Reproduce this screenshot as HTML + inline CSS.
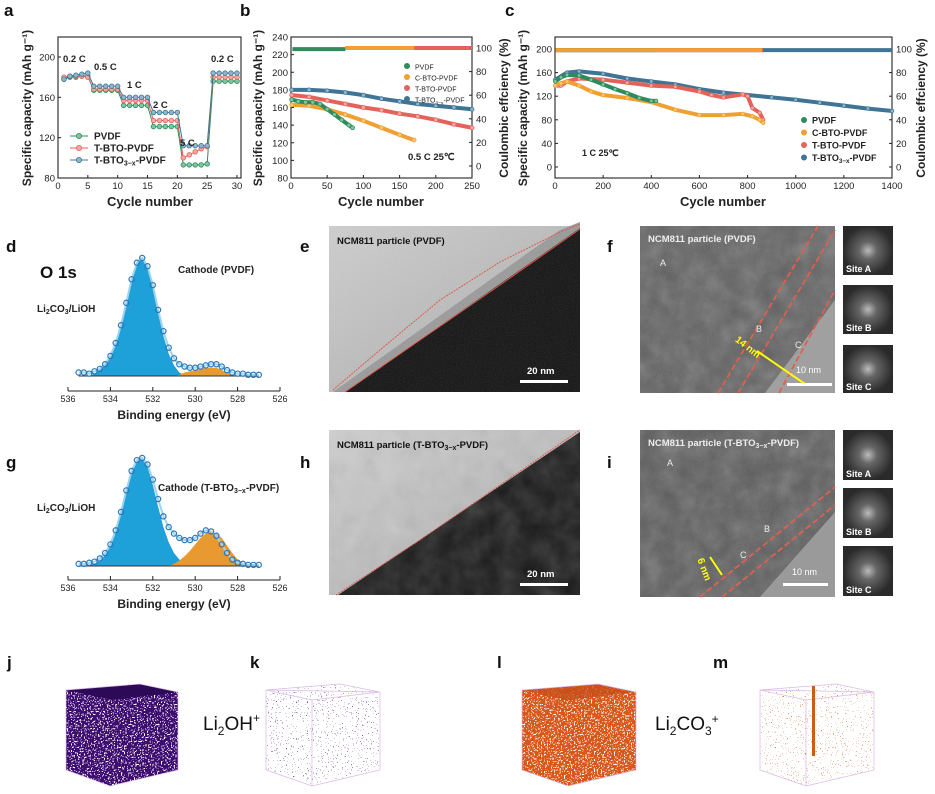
<!DOCTYPE html>
<html><head><meta charset="utf-8"><style>
html,body{margin:0;padding:0;background:#fff}
svg{display:block;font-family:"Liberation Sans",Arial,sans-serif}
</style></head><body>
<svg id="fig" width="935" height="794" viewBox="0 0 935 794" xmlns="http://www.w3.org/2000/svg">
<defs>
<filter id="grain" x="0" y="0" width="100%" height="100%"><feTurbulence type="fractalNoise" baseFrequency="0.9" numOctaves="2" seed="3"/><feColorMatrix type="saturate" values="0"/><feComponentTransfer><feFuncA type="linear" slope="0.35"/></feComponentTransfer></filter>
<filter id="blotch" x="0" y="0" width="100%" height="100%"><feTurbulence type="fractalNoise" baseFrequency="0.05" numOctaves="3" seed="7"/><feColorMatrix type="saturate" values="0"/><feComponentTransfer><feFuncA type="linear" slope="0.5"/></feComponentTransfer></filter>
<filter id="dotsDense" x="0" y="0" width="100%" height="100%"><feTurbulence type="fractalNoise" baseFrequency="0.7" numOctaves="1" seed="4"/><feColorMatrix type="matrix" values="0 0 0 0 0 0 0 0 0 0 0 0 0 0 0 1 0 0 0 0"/><feComponentTransfer><feFuncA type="discrete" tableValues="0 0 0 0 1 1 1 1 1 1"/></feComponentTransfer><feComposite in="SourceGraphic" operator="in"/></filter>
<filter id="dotsSparse" x="0" y="0" width="100%" height="100%"><feTurbulence type="fractalNoise" baseFrequency="0.8" numOctaves="1" seed="9"/><feColorMatrix type="matrix" values="0 0 0 0 0 0 0 0 0 0 0 0 0 0 0 1 0 0 0 0"/><feComponentTransfer><feFuncA type="discrete" tableValues="0 0 0 0 0 0 0 1 1 1"/></feComponentTransfer><feComposite in="SourceGraphic" operator="in"/></filter>
<radialGradient id="fft"><stop offset="0" stop-color="#bbb"/><stop offset="0.35" stop-color="#666"/><stop offset="1" stop-color="#2a2a2a"/></radialGradient>
<linearGradient id="eBg" x1="0" y1="0" x2="1" y2="1"><stop offset="0" stop-color="#cfcfcf"/><stop offset="1" stop-color="#a9a9a9"/></linearGradient>
</defs>

<g font-weight="bold" font-size="17" fill="#111">
<text x="4" y="16">a</text><text x="240" y="16">b</text><text x="505" y="16">c</text>
<text x="6" y="252">d</text><text x="300" y="252">e</text><text x="607" y="252">f</text>
<text x="6" y="468">g</text><text x="300" y="468">h</text><text x="607" y="468">i</text>
<text x="7" y="668">j</text><text x="250" y="668">k</text><text x="497" y="668">l</text><text x="713" y="668">m</text>
</g>

<g>
<rect x="329" y="226" width="251" height="166" fill="url(#eBg)"/>
<polygon points="345,392 580,228 580,392" fill="#111"/>
<polygon points="333,392 345,392 580,228 580,222 560,230" fill="#9a9a9a"/>
<rect x="329" y="226" width="251" height="166" filter="url(#grain)" opacity="0.5"/>
<polyline points="333,390 380,350 440,300 500,262 560,232 580,224" fill="none" stroke="#e05a4a" stroke-width="1" stroke-dasharray="2,1"/>
<polyline points="345,392 420,340 500,285 580,229" fill="none" stroke="#e05a4a" stroke-width="1"/>
<text x="337" y="244" font-size="9.5" font-weight="bold" fill="#111">NCM811 particle (PVDF)</text>
<rect x="520" y="380" width="48" height="3" fill="#fff"/><text x="527" y="374" font-size="9.5" font-weight="bold" fill="#fff">20 nm</text>
</g>
<g>
<rect x="329" y="430" width="251" height="165" fill="url(#eBg)"/>
<polygon points="338,595 580,432 580,595" fill="#1a1a1a"/>
<rect x="329" y="430" width="251" height="165" filter="url(#blotch)" opacity="0.5"/>
<polyline points="336,595 420,540 500,485 580,430" fill="none" stroke="#e05a4a" stroke-width="1" stroke-dasharray="2,1"/>
<text x="337" y="448" font-size="9.5" font-weight="bold" fill="#111">NCM811 particle (T-BTO<tspan font-size="7" dy="2">3−x</tspan><tspan dy="-2">-PVDF)</tspan></text>
<rect x="520" y="583" width="48" height="3" fill="#fff"/><text x="527" y="577" font-size="9.5" font-weight="bold" fill="#fff">20 nm</text>
</g>
<g>
<rect x="640" y="226" width="195" height="167" fill="#5a5a5a"/>
<rect x="640" y="226" width="195" height="167" filter="url(#blotch)" opacity="0.7"/>
<rect x="640" y="226" width="195" height="167" filter="url(#grain)" opacity="0.5"/>
<polygon points="765,393 835,300 835,393" fill="#a0a0a0"/>
<line x1="718" y1="393" x2="818" y2="226" stroke="#e06050" stroke-width="1.8" stroke-dasharray="6,3"/>
<line x1="738" y1="393" x2="835" y2="230" stroke="#e06050" stroke-width="1.8" stroke-dasharray="6,3"/>
<line x1="779" y1="393" x2="835" y2="290" stroke="#e06050" stroke-width="1.8" stroke-dasharray="6,3"/>
<line x1="757" y1="351" x2="805" y2="384" stroke="#ff0" stroke-width="2"/>
<text x="733" y="345" font-size="10" font-weight="bold" fill="#ff0" transform="rotate(38 740 345)">14 nm</text>
<text x="648" y="242" font-size="9.5" font-weight="bold" fill="#eee">NCM811 particle (PVDF)</text>
<text x="660" y="266" font-size="9" fill="#eee">A</text><text x="756" y="332" font-size="9" fill="#eee">B</text><text x="795" y="348" font-size="9" fill="#eee">C</text>
<rect x="787" y="383" width="45" height="3" fill="#fff"/><text x="796" y="373" font-size="9" fill="#fff">10 nm</text>
</g>
<g font-size="9" font-weight="bold" fill="#fff">
<rect x="843" y="226" width="50" height="49" fill="url(#fft)"/><text x="846" y="272">Site A</text>
<rect x="843" y="285" width="50" height="49" fill="url(#fft)"/><text x="846" y="331">Site B</text>
<rect x="843" y="345" width="50" height="48" fill="url(#fft)"/><text x="846" y="390">Site C</text>
</g>
<g>
<rect x="640" y="430" width="195" height="167" fill="#555"/>
<rect x="640" y="430" width="195" height="167" filter="url(#blotch)" opacity="0.7"/>
<rect x="640" y="430" width="195" height="167" filter="url(#grain)" opacity="0.5"/>
<polygon points="760,597 835,512 835,597" fill="#9a9a9a"/>
<line x1="700" y1="597" x2="835" y2="487" stroke="#e06050" stroke-width="1.8" stroke-dasharray="6,3"/>
<line x1="722" y1="597" x2="835" y2="505" stroke="#e06050" stroke-width="1.8" stroke-dasharray="6,3"/>
<line x1="710" y1="557" x2="722" y2="575" stroke="#ff0" stroke-width="2"/>
<text x="692" y="567" font-size="10" font-weight="bold" fill="#ff0" transform="rotate(70 700 567)">6 nm</text>
<text x="648" y="446" font-size="9.5" font-weight="bold" fill="#eee">NCM811 particle (T-BTO<tspan font-size="7" dy="2">3−x</tspan><tspan dy="-2">-PVDF)</tspan></text>
<text x="667" y="466" font-size="9" fill="#eee">A</text><text x="764" y="532" font-size="9" fill="#eee">B</text><text x="740" y="558" font-size="9" fill="#eee">C</text>
<rect x="783" y="583" width="45" height="3" fill="#fff"/><text x="792" y="575" font-size="9" fill="#fff">10 nm</text>
</g>
<g font-size="9" font-weight="bold" fill="#fff">
<rect x="843" y="430" width="50" height="50" fill="url(#fft)"/><text x="846" y="477">Site A</text>
<rect x="843" y="488" width="50" height="50" fill="url(#fft)"/><text x="846" y="535">Site B</text>
<rect x="843" y="546" width="50" height="50" fill="url(#fft)"/><text x="846" y="593">Site C</text>
</g>

<g>
<polygon points="66,690 140,684 178,692 178,770 110,786 66,770" fill="#3c1070" filter="url(#dotsDense)"/>
<polygon points="66,690 140,684 178,692 112,700" fill="#2c0a58"/>
<polygon points="66,690 140,684 178,692 178,770 110,786 66,770" fill="none" stroke="#d9b8e6" stroke-width="0.7"/>
</g>
<g>
<polygon points="266,690 340,684 380,692 380,770 312,786 266,770" fill="#4a1a80" filter="url(#dotsSparse)"/>
<polygon points="266,690 340,684 380,692 380,770 312,786 266,770 266,690 312,700 380,692" fill="none" stroke="#d9b8e6" stroke-width="0.7"/>
<line x1="312" y1="700" x2="312" y2="786" stroke="#d9b8e6" stroke-width="0.7"/>
</g>
<g>
<polygon points="522,690 598,684 636,692 636,770 568,786 522,770" fill="#d8581e" filter="url(#dotsDense)"/>
<polygon points="522,690 598,684 636,692 568,700" fill="#c84d18" opacity="0.8"/>
<polygon points="522,690 598,684 636,692 636,770 568,786 522,770" fill="none" stroke="#d9b8e6" stroke-width="0.7"/>
</g>
<g>
<polygon points="760,690 836,684 874,692 874,770 806,786 760,770" fill="#d8601e" filter="url(#dotsSparse)"/>
<polygon points="760,690 836,684 874,692 874,770 806,786 760,770 760,690 806,700 874,692" fill="none" stroke="#d9b8e6" stroke-width="0.7"/>
<line x1="806" y1="700" x2="806" y2="786" stroke="#d9b8e6" stroke-width="0.7"/>
<rect x="812" y="686" width="3" height="70" fill="#d05a18"/>
</g>
<g font-size="19" fill="#111">
<text x="203" y="730">Li<tspan font-size="12" dy="5">2</tspan><tspan dy="-5">OH</tspan><tspan font-size="12" dy="-8">+</tspan></text>
<text x="655" y="730">Li<tspan font-size="12" dy="5">2</tspan><tspan dy="-5">CO</tspan><tspan font-size="12" dy="5">3</tspan><tspan font-size="12" dy="-12">+</tspan></text>
</g>
<g id="charts"></g>
</svg>
<script>
var aCycles = [1,2,3,4,5,6,7,8,9,10,11,12,13,14,15,16,17,18,19,20,21,22,23,24,25,26,27,28,29,30];
var aPVDF = [178,180,180,181,181,167,167,167,167,167,152,152,152,152,152,131,131,131,131,131,93,93,93,93,94,176,176,176,176,176];
var aTBTO = [180,181,181,181,180,168,168,168,168,168,157,157,157,157,157,137,137,137,137,137,100,103,106,109,111,180,180,180,180,180];
var aTBTOx = [178,181,182,183,184,171,171,171,171,171,160,160,160,160,160,145,145,145,145,145,112,112,112,112,112,184,184,184,184,184];
var aYTicks = [80,120,160,200];
var aXTicks = [0,5,10,15,20,25,30];
var bPVDFx = [1,10,20,30,40,50,60,70,80,85];
var bPVDFy = [169,167,166,166,164,158,152,146,140,137];
var bCBTOx = [1,25,50,75,100,125,150,170];
var bCBTOy = [163,162,158,152,145,137,129,123];
var bTBTOx = [1,25,50,75,100,125,150,175,200,225,250];
var bTBTOy = [174,172,168,164,160,157,153,150,146,141,137];
var bTBTOxx = [1,25,50,75,100,125,150,175,200,225,250];
var bTBTOxy = [180,180,179,177,174,170,167,164,162,160,158];
var bCEx = [[2,75],[75,170],[75,250],[2,250]];
var bCEy = [99,100,100,100];
var bYTicks = [80,100,120,140,160,180,200,220,240];
var bRTicks = [0,20,40,60,80,100];
var bXTicks = [0,50,100,150,200,250];
var cPVDFx = [1,25,50,100,150,200,250,300,350,400,420];
var cPVDFy = [145,152,156,155,148,140,132,125,117,112,112];
var cCBTOx = [1,25,50,100,150,200,300,400,500,600,700,780,820,850,865];
var cCBTOy = [138,142,145,138,128,122,117,110,97,88,88,90,86,80,75];
var cTBTOx = [1,25,50,100,200,300,400,500,600,650,700,780,800,820,850,865];
var cTBTOy = [138,138,145,150,148,143,138,136,128,122,118,123,120,100,92,80];
var cTBTOxx = [1,50,100,200,300,400,500,600,700,800,900,1000,1100,1200,1300,1400];
var cTBTOxy = [148,160,162,158,150,145,140,132,126,122,118,114,109,104,99,95];
var cCEx = [[2,420],[2,860],[2,865],[2,1400]];
var cCEy = [99,99,99,99];
var cYTicks = [0,40,80,120,160,200];
var cRTicks = [0,20,40,60,80,100];
var cXTicks = [0,200,400,600,800,1000,1200,1400];
var xpsE = [535.5,535.25,535,534.75,534.5,534.25,534,533.75,533.5,533.25,533,532.75,532.5,532.25,532,531.75,531.5,531.25,531,530.75,530.5,530.25,530,529.75,529.5,529.25,529,528.75,528.5,528.25,528,527.75,527.5,527.25,527];
var dData = [0.03,0.03,0.02,0.04,0.06,0.1,0.17,0.28,0.43,0.62,0.82,0.96,1.0,0.93,0.77,0.56,0.38,0.24,0.15,0.1,0.08,0.07,0.07,0.08,0.09,0.1,0.1,0.08,0.05,0.03,0.02,0.02,0.01,0.01,0.01];
var dComp1 = [0,0,0,0.02,0.05,0.09,0.16,0.27,0.42,0.61,0.81,0.95,0.99,0.92,0.75,0.53,0.34,0.19,0.09,0.03,0.01,0,0,0,0,0,0,0,0,0,0,0,0,0,0];
var dComp2 = [0,0,0,0,0,0,0,0,0,0,0,0,0,0,0,0,0,0,0,0.01,0.03,0.04,0.05,0.06,0.07,0.07,0.07,0.05,0.03,0.01,0,0,0,0,0];
var gData = [0.02,0.02,0.03,0.04,0.07,0.12,0.2,0.33,0.5,0.7,0.88,0.98,1.0,0.94,0.8,0.62,0.46,0.36,0.3,0.26,0.24,0.24,0.26,0.3,0.33,0.32,0.28,0.2,0.12,0.06,0.03,0.02,0.01,0.01,0.01];
var gComp1 = [0,0,0.01,0.02,0.05,0.1,0.18,0.31,0.48,0.68,0.86,0.97,0.99,0.92,0.75,0.55,0.36,0.22,0.12,0.06,0.03,0.01,0,0,0,0,0,0,0,0,0,0,0,0,0];
var gComp2 = [0,0,0,0,0,0,0,0,0,0,0,0,0,0,0,0,0,0,0.02,0.05,0.09,0.14,0.2,0.26,0.3,0.32,0.3,0.26,0.19,0.12,0.06,0.03,0.01,0,0];
var xpsXTicks = [536,534,532,530,528,526];

var NS = 'http://www.w3.org/2000/svg';
var root = document.getElementById('charts');
function mk(tag, attrs, parent) {
  var el = document.createElementNS(NS, tag);
  for (var k in attrs) el.setAttribute(k, attrs[k]);
  (parent || root).appendChild(el);
  return el;
}
function txt(s, attrs, parent) { var t = mk('text', attrs, parent); t.textContent = s; return t; }

var COL = {pvdf:'#2f8a5c', cbto:'#f0a032', tbto:'#e5625a', tbtox:'#3f7494'};
var FILL = {pvdf:'#7fc6a0', cbto:'#f7c777', tbto:'#f2a9a2', tbtox:'#8fb6cc'};

function axesBox(x0,y0,x1,y1,name){
  var r = mk('rect',{x:x0,y:y0,width:x1-x0,height:y1-y0,fill:'none',stroke:'#222','stroke-width':1.1});
  
  
}
function xTicks(ticks, sx, y, g){
  ticks.forEach(function(t){
    mk('line',{x1:sx(t),x2:sx(t),y1:y,y2:y-3,stroke:'#222'},g);
    var tl = txt(String(t),{x:sx(t),y:y+11,'font-size':9.5,'text-anchor':'middle',fill:'#222'},g);
    
    
  });
}
function yTicks(ticks, sy, x, side, g){
  ticks.forEach(function(t){
    var d = side==='left'?3:-3;
    mk('line',{x1:x,x2:x+d,y1:sy(t),y2:sy(t),stroke:'#222'},g);
    var tl = txt(String(t),{x:side==='left'?x-3:x+4,y:sy(t)+3.5,'font-size':9.5,'text-anchor':side==='left'?'end':'start',fill:'#222'},g);
    
    
  });
}
function rotTitle(s,x,y,name){
  var t = txt(s,{x:x,y:y,'font-size':12,'font-weight':'bold','text-anchor':'middle',fill:'#222',transform:'rotate(-90 '+x+' '+y+')'});
  
  
  return t;
}
function series(xs, ys, sx, sy, key, name, r, thick){
  var g = mk('g',{});
  
  
  var pts = xs.map(function(x,i){return sx(x)+','+sy(ys[i]);}).join(' ');
  mk('polyline',{points:pts,fill:'none',stroke:COL[key],'stroke-width':thick||1,'stroke-linejoin':'round'},g);
  xs.forEach(function(x,i){
    var c = mk('circle',{cx:sx(x),cy:sy(ys[i]),r:r,fill:FILL[key],stroke:COL[key],'stroke-width':0.8},g);
    
    
  });
}
function legend(items, x, y, dy, fs, bold, line){
  var g = mk('g',{});
  
  
  items.forEach(function(it,i){
    var yy = y + i*dy;
    if(line) mk('line',{x1:x,x2:x+18,y1:yy,y2:yy,stroke:COL[it[0]],'stroke-width':1},g);
    mk('circle',{cx:line?x+9:x+4,cy:yy,r:2.6,fill:line?FILL[it[0]]:COL[it[0]],stroke:COL[it[0]],'stroke-width':0.8},g);
    var t = txt('',{x:line?x+24:x+12,y:yy+3.5,'font-size':fs,'font-weight':bold?'bold':'normal',fill:'#222'},g);
    
    
    t.innerHTML = it[1];
  });
}
var SUB = 'T-BTO<tspan font-size="70%" dy="2">3−x</tspan><tspan dy="-2">-PVDF</tspan>';

(function(){
  var sx = function(v){return 58 + v*(237-58)/30;};
  var sy = function(v){return 178 - (v-80)*121/120;};
  axesBox(58,37,241,178,'panel-a-axes');
  var g = mk('g',{});
  xTicks(aXTicks, sx, 178, g); yTicks(aYTicks, sy, 58, 'left', g);
  series(aCycles,aPVDF,sx,sy,'pvdf','a-series-pvdf',2.3);
  series(aCycles,aTBTO,sx,sy,'tbto','a-series-tbto',2.3);
  series(aCycles,aTBTOx,sx,sy,'tbtox','a-series-tbtox',2.3);
  legend([['pvdf','PVDF'],['tbto','T-BTO-PVDF'],['tbtox',SUB]],70,136,12,10,true,true);
  var ann = [['0.2 C',63,62],['0.5 C',94,70],['1 C',127,88],['2 C',153,108],['5 C',180,146],['0.2 C',211,62]];
  ann.forEach(function(a){var t=txt(a[0],{x:a[1],y:a[2],'font-size':9.5,'font-weight':'bold',fill:'#222'});
    
    });
  rotTitle('Specific capacity (mAh g⁻¹)',31,108,'a-y-axis-title');
  var t = txt('Cycle number',{x:150,y:206,'font-size':13,'font-weight':'bold','text-anchor':'middle',fill:'#222'});
  
  
})();

(function(){
  var sx = function(v){return 291 + v*(472-291)/250;};
  var sy = function(v){return 37 + (240-v)*141/160;};
  var sr = function(v){return 166 - v*1.18;};
  axesBox(291,37,472,178,'panel-b-axes');
  var g = mk('g',{});
  xTicks(bXTicks, sx, 178, g); yTicks(bYTicks, sy, 291, 'left', g); yTicks(bRTicks, sr, 472, 'right', g);
  var keys = ['pvdf','cbto','tbto','tbtox'];
  [2,1,0].forEach(function(i){
    var r = bCEx[i];
    var l = mk('line',{x1:sx(r[0]),x2:sx(r[1]),y1:sr(bCEy[i]),y2:sr(bCEy[i]),stroke:COL[keys[i]],'stroke-width':4});
    
    
  });
  series(bTBTOxx,bTBTOxy,sx,sy,'tbtox','b-series-tbtox',2,4);
  series(bTBTOx,bTBTOy,sx,sy,'tbto','b-series-tbto',2,4);
  series(bCBTOx,bCBTOy,sx,sy,'cbto','b-series-cbto',2,4);
  series(bPVDFx,bPVDFy,sx,sy,'pvdf','b-series-pvdf',2,4);
  legend([['pvdf','PVDF'],['cbto','C-BTO-PVDF'],['tbto','T-BTO-PVDF'],['tbtox',SUB]],403,66,11,7,false,false);
  var t=txt('0.5 C 25℃',{x:408,y:160,'font-size':9.5,'font-weight':'bold',fill:'#222'});
  
  
  rotTitle('Specific capacity (mAh g⁻¹)',262,108,'b-y-axis-title');
  rotTitle('Coulombic effciency (%)',508,108,'b-right-axis-title');
  t = txt('Cycle number',{x:381,y:206,'font-size':13,'font-weight':'bold','text-anchor':'middle',fill:'#222'});
  
  
})();

(function(){
  var sx = function(v){return 555 + v*(892-555)/1400;};
  var sy = function(v){return 167 - v*0.59;};
  var sr = function(v){return 167 - v*1.18;};
  axesBox(555,37,892,178,'panel-c-axes');
  var g = mk('g',{});
  xTicks(cXTicks, sx, 178, g); yTicks(cYTicks, sy, 555, 'left', g); yTicks(cRTicks, sr, 892, 'right', g);
  var keys = ['pvdf','cbto','tbto','tbtox'];
  [3,2,0,1].forEach(function(i){
    var r = cCEx[i];
    var l = mk('line',{x1:sx(r[0]),x2:sx(r[1]),y1:sr(cCEy[i]),y2:sr(cCEy[i]),stroke:COL[keys[i]],'stroke-width':4});
    
    
  });
  series(cTBTOxx,cTBTOxy,sx,sy,'tbtox','c-series-tbtox',1.8,4);
  series(cTBTOx,cTBTOy,sx,sy,'tbto','c-series-tbto',1.8,4);
  series(cCBTOx,cCBTOy,sx,sy,'cbto','c-series-cbto',1.8,4);
  series(cPVDFx,cPVDFy,sx,sy,'pvdf','c-series-pvdf',1.8,4);
  legend([['pvdf','PVDF'],['cbto','C-BTO-PVDF'],['tbto','T-BTO-PVDF'],['tbtox',SUB]],800,120,12.5,9,true,false);
  var t=txt('1 C 25℃',{x:582,y:156,'font-size':9,'font-weight':'bold',fill:'#222'});
  
  
  rotTitle('Specific capacity (mAh g⁻¹)',527,108,'c-y-axis-title');
  rotTitle('Coulombic effciency (%)',925,108,'c-right-axis-title');
  t = txt('Cycle number',{x:723,y:206,'font-size':13,'font-weight':'bold','text-anchor':'middle',fill:'#222'});
  
  
})();

function xps(axisY, baseY, h, data, c1, c2, pfx, label, labelX, labelY){
  var sx = function(v){return 68 + (536-v)*(280-68)/10;};
  var sy = function(v){return baseY - v*h;};
  var ax = mk('line',{x1:68,x2:280,y1:axisY,y2:axisY,stroke:'#222','stroke-width':1});
  
  
  var g = mk('g',{});
  xpsXTicks.forEach(function(t){
    mk('line',{x1:sx(t),x2:sx(t),y1:axisY,y2:axisY-4,stroke:'#222'},g);
    var tl = txt(String(t),{x:sx(t),y:axisY+11,'font-size':9,'text-anchor':'middle',fill:'#222'},g);
    
    
  });
  function area(arr, fill, name){
    var p = 'M'+sx(xpsE[0])+','+baseY;
    xpsE.forEach(function(e,i){p+=' L'+sx(e)+','+sy(arr[i]);});
    p += ' L'+sx(xpsE[xpsE.length-1])+','+baseY+' Z';
    var a = mk('path',{d:p,fill:fill,stroke:'none'});
    
    
  }
  area(c1,'#1ea0d8',pfx+'-component-li2co3');
  area(c2,'#e89a30',pfx+'-component-lattice-o');
  var bl = mk('line',{x1:sx(535.5),x2:sx(527),y1:baseY,y2:baseY,stroke:'#333','stroke-width':1});
  
  
  var env = xpsE.map(function(e,i){return sx(e)+','+sy(data[i]);}).join(' ');
  var pl = mk('polyline',{points:env,fill:'none',stroke:'#9fd3ef','stroke-width':2});
  
  
  xpsE.forEach(function(e,i){
    var c = mk('circle',{cx:sx(e),cy:sy(data[i]),r:2.6,fill:'none',stroke:'#2a78b8','stroke-width':1.2});
    
    
  });
  var t = txt('Binding energy (eV)',{x:174,y:axisY+28,'font-size':12,'font-weight':'bold','text-anchor':'middle',fill:'#222'});
  
  
  t = txt('',{x:labelX,y:labelY,'font-size':10,'font-weight':'bold',fill:'#222'});
  t.innerHTML = label;
  
  
  t = txt('',{x:37,y:labelY+(pfx==='d'?39:20),'font-size':10,'font-weight':'bold',fill:'#222'});
  t.innerHTML = 'Li<tspan font-size="7" dy="2">2</tspan><tspan dy="-2">CO</tspan><tspan font-size="7" dy="2">3</tspan><tspan dy="-2">/LiOH</tspan>';
  
  
}
xps(391,376,118,dData,dComp1,dComp2,'d','Cathode (PVDF)',178,273);
xps(580,566,108,gData,gComp1,gComp2,'g','Cathode (T-BTO<tspan font-size="7" dy="2">3−x</tspan><tspan dy="-2">-PVDF)</tspan>',158,491);
var o1 = txt('O 1s',{x:40,y:278,'font-size':17,'font-weight':'bold',fill:'#111'});


</script>
</body></html>
